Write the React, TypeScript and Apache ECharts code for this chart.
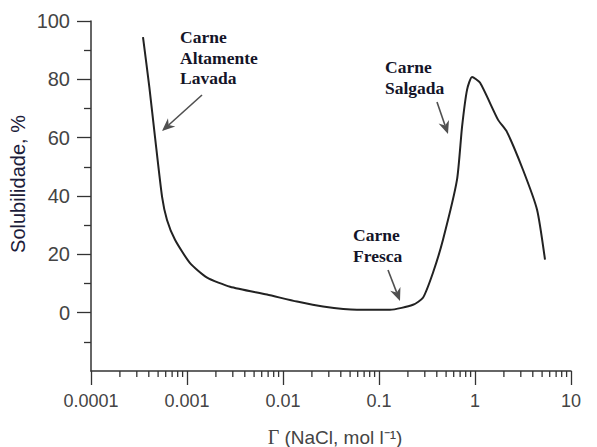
import React, { useEffect, useRef } from "react";
import * as echarts from "echarts";

// NaCl concentration (mol/l) and solubility (%)
const concentration = [
  0.000348, 0.000405, 0.000464, 0.00055, 0.000619, 0.00075, 0.00107, 0.00162,
  0.00281, 0.00681, 0.014, 0.0261, 0.059, 0.13, 0.226, 0.287, 0.365, 0.464,
  0.649, 0.733, 0.826, 0.931, 1.13, 1.74, 2.15, 3.16, 4.43, 5.36,
];
const solubility = [
  94.5, 77.4, 60.3, 39.7, 31.8, 25, 17.1, 12, 8.9, 6.2, 3.8, 2.1, 1.0, 1.0, 2.7,
  5.1, 13.7, 25, 45.5, 63.7, 76.4, 80.8, 78.8, 66.1, 62, 49, 35.3, 18.2,
];

const xTickLabels = ["0.0001", "0.001", "0.01", "0.1", "1", "10"];
const yTickValues = [0, 20, 40, 60, 80, 100];
const decades = [-4, -3, -2, -1, 0];
const minorMultipliers = [2, 3, 4, 5, 6, 7, 8, 9];

const annotations = [
  { lines: ["Carne", "Altamente", "Lavada"], x: 180, y: 37, from: [202, 95], to: [162, 131] },
  { lines: ["Carne", "Salgada"], x: 385, y: 67, from: [437, 102], to: [448, 134] },
  { lines: ["Carne", "Fresca"], x: 353, y: 235, from: [388, 270], to: [400, 301] },
];

function arrow(from: number[], to: number[]) {
  const dx = to[0] - from[0];
  const dy = to[1] - from[1];
  const len = Math.sqrt(dx * dx + dy * dy);
  const ux = dx / len;
  const uy = dy / len;
  const hl = 13;
  const hw = 5.5;
  const bx = to[0] - ux * hl;
  const by = to[1] - uy * hl;
  const nx = bx + ux * 4;
  const ny = by + uy * 4;
  return [
    {
      type: "line",
      shape: { x1: from[0], y1: from[1], x2: nx, y2: ny },
      style: { stroke: "#505050", lineWidth: 1.6 },
    },
    {
      type: "polygon",
      shape: {
        points: [
          [to[0], to[1]],
          [bx - uy * hw, by + ux * hw],
          [nx, ny],
          [bx + uy * hw, by - ux * hw],
        ],
      },
      style: { fill: "#505050" },
    },
  ];
}

export default function App() {
  const ref = useRef<HTMLDivElement>(null);

  useEffect(() => {
    if (!ref.current) return;
    const chart = echarts.init(ref.current, null, { renderer: "svg" });

    const minorTicks: number[][] = [];
    decades.forEach((d) => {
      minorMultipliers.forEach((m) => {
        minorTicks.push([m * Math.pow(10, d), -20]);
      });
    });

    const graphics: any[] = [
      {
        type: "text",
        x: 18,
        y: 184,
        rotation: Math.PI / 2,
        style: {
          text: "Solubilidade, %",
          fontFamily: "Liberation Sans, Arial, sans-serif",
          fontSize: 20,
          fill: "#1c1c3a",
          align: "center",
          verticalAlign: "middle",
        },
      },
      {
        type: "text",
        x: 335,
        y: 437,
        style: {
          text: "{g|Γ} (NaCl, mol l⁻¹)",
          fontFamily: "Liberation Sans, Arial, sans-serif",
          fontSize: 19,
          fill: "#444",
          align: "center",
          verticalAlign: "middle",
          rich: {
            g: { fontFamily: "Liberation Serif, serif", fontSize: 20, fill: "#444" },
          },
        },
      },
    ];
    annotations.forEach((a) => {
      a.lines.forEach((t, i) => {
        graphics.push({
          type: "text",
          x: a.x,
          y: a.y + i * 20.5,
          style: {
            text: t,
            fontFamily: "Liberation Serif, Times New Roman, serif",
            fontWeight: "bold",
            fontSize: 17.5,
            fill: "#141428",
            align: "left",
            verticalAlign: "middle",
          },
        });
      });
      graphics.push(...arrow(a.from, a.to));
    });

    chart.setOption({
      animation: false,
      backgroundColor: "#fff",
      grid: { left: 91, right: 26, top: 21, bottom: 76, containLabel: false },
      xAxis: {
        type: "log",
        logBase: 10,
        min: 0.0001,
        max: 10,
        axisLine: { show: true, onZero: false, lineStyle: { color: "#333", width: 1.5 } },
        axisTick: { show: true, inside: false, length: 14, lineStyle: { color: "#333", width: 1.3 } },
        axisLabel: {
          margin: 21,
          fontSize: 18,
          color: "#444",
          fontFamily: "Liberation Sans, Arial, sans-serif",
          formatter: (_v: number, i: number) => xTickLabels[i] ?? "",
        },
        splitLine: { show: false },
        minorTick: { show: false },
      },
      yAxis: {
        type: "value",
        min: -20,
        max: 100,
        interval: 20,
        axisLine: { show: true, lineStyle: { color: "#333", width: 1.5 } },
        axisTick: {
          show: true,
          inside: false,
          length: 14,
          customValues: yTickValues,
          lineStyle: { color: "#333", width: 1.3 },
        },
        minorTick: { show: true, splitNumber: 2, length: 7, lineStyle: { color: "#333", width: 1.3 } },
        axisLabel: {
          margin: 21,
          fontSize: 20,
          color: "#444",
          fontFamily: "Liberation Sans, Arial, sans-serif",
          customValues: yTickValues,
        },
        splitLine: { show: false },
        minorSplitLine: { show: false },
      },
      series: [
        {
          type: "line",
          data: concentration.map((c, i) => [c, solubility[i]]),
          showSymbol: false,
          smooth: 0.2,
          lineStyle: { color: "#222", width: 2 },
          silent: true,
        },
        {
          type: "custom",
          data: minorTicks,
          silent: true,
          clip: false,
          renderItem: (_p: any, api: any) => {
            const pt = api.coord([api.value(0), api.value(1)]);
            return {
              type: "line",
              shape: { x1: pt[0], y1: pt[1], x2: pt[0], y2: pt[1] + 6 },
              style: { stroke: "#333", lineWidth: 1.3 },
            };
          },
        },
      ],
      graphic: graphics,
    });

    return () => chart.dispose();
  }, []);

  return (
    <div
      ref={ref}
      style={{ position: "absolute", left: 0, top: 0, width: 597, height: 447 }}
    />
  );
}
